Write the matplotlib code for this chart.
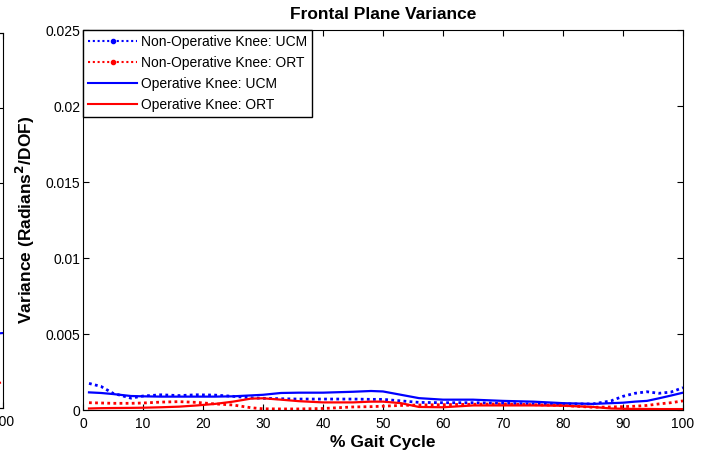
import matplotlib
matplotlib.use("Agg")
import matplotlib.pyplot as plt
from matplotlib.lines import Line2D

plt.rcParams['font.family'] = ['Liberation Sans', 'DejaVu Sans']

# ---- data ----
gait = [1, 3, 5, 8, 10, 13, 16, 19, 22, 25, 28, 30, 33, 36, 40, 45, 48, 50,
        53, 56, 60, 65, 70, 75, 80, 85, 88, 90, 92, 94, 96, 98, 100]

nonop_ucm = [0.00175, 0.00155, 0.0011, 0.00078, 0.00092, 0.0010, 0.00095, 0.0010,
             0.00098, 0.0009, 0.0008, 0.00077, 0.00074, 0.00072, 0.00072, 0.00072,
             0.0007, 0.0007, 0.0006, 0.0005, 0.00048, 0.00048, 0.00044, 0.0004,
             0.0004, 0.0004, 0.0006, 0.0009, 0.0011, 0.0012, 0.0011, 0.00118, 0.00147]

nonop_ort = [0.00048, 0.00046, 0.00044, 0.00044, 0.00046, 0.00052, 0.00055, 0.0005,
             0.0004, 0.00033, 0.00015, 0.00008, 0.00007, 0.00007, 0.0001, 0.0002,
             0.00022, 0.00025, 0.0003, 0.00033, 0.00035, 0.00038, 0.0004, 0.00035,
             0.0003, 0.00018, 0.0002, 0.00022, 0.00025, 0.0003, 0.0004, 0.00048, 0.0006]

op_ucm = [0.00116, 0.00112, 0.00105, 0.00092, 0.0009, 0.00088, 0.00088, 0.00088,
          0.00088, 0.0009, 0.00096, 0.001, 0.00112, 0.00114, 0.00114, 0.0012,
          0.00125, 0.00122, 0.001, 0.00078, 0.00068, 0.00068, 0.0006, 0.00055,
          0.00045, 0.0004, 0.00045, 0.00048, 0.00055, 0.0006, 0.00077, 0.00095, 0.00114]

op_ort = [0.0001, 0.00012, 0.00013, 0.00014, 0.00015, 0.00018, 0.00022, 0.0003,
          0.0004, 0.00055, 0.00075, 0.00077, 0.00068, 0.00058, 0.0005, 0.0005,
          0.00055, 0.00055, 0.00045, 0.0002, 0.00018, 0.0003, 0.0003, 0.0003,
          0.00028, 0.0002, 0.0001, 0.00008, 0.00007, 0.00007, 0.00006, 0.00006, 0.00006]

labels = ['Non-Operative Knee: UCM', 'Non-Operative Knee: ORT',
          'Operative Knee: UCM', 'Operative Knee: ORT']
xticks = [0, 10, 20, 30, 40, 50, 60, 70, 80, 90, 100]
yticks = [0, 0.005, 0.01, 0.015, 0.02, 0.025]
ytick_labels = ['0', '0.005', '0.01', '0.015', '0.02', '0.025']

# neighbouring panel (cut off at left edge): end values only
nb_x = [97, 100]
nb_blue = [0.0049, 0.0050]
nb_red = [0.0016, 0.0017]

W, H = 715, 454
fig = plt.figure(figsize=(W / 100, H / 100), dpi=100)

# ---- neighbouring (cropped) panel ----
axn = fig.add_axes([(3 - 600) / W, (H - 408) / H, 600 / W, (408 - 33) / H])
axn.plot(nb_x, nb_blue, color='#0000ff', lw=1.5)
axn.plot(nb_x, nb_red, color='#ff0000', lw=1.5, ls=(0, (1, 1.2)))
axn.set_xlim(0, 100)
axn.set_ylim(0, 0.025)
axn.set_xticks(xticks)
axn.set_xticklabels(['' if t != 100 else str(t) for t in xticks])
axn.set_yticks(yticks)
axn.set_yticklabels([])
axn.tick_params(direction='in', length=4, width=0.8, top=True, right=True,
                labelsize=10)
axn.tick_params(axis='x', pad=5)
for s in axn.spines.values():
    s.set_linewidth(0.8)

# ---- main panel ----
ax = fig.add_axes([83 / W, (H - 410) / H, 600 / W, 380 / H])
dot = (0, (1, 1.2))
ax.plot(gait, nonop_ucm, color='#0000ff', lw=2.0, ls=dot)
ax.plot(gait, nonop_ort, color='#ff0000', lw=2.0, ls=dot)
ax.plot(gait, op_ucm, color='#0000ff', lw=1.6, ls='-')
ax.plot(gait, op_ort, color='#ff0000', lw=1.6, ls='-')

ax.set_xlim(0, 100)
ax.set_ylim(0, 0.025)
ax.set_xticks(xticks)
ax.set_xticklabels([str(t) for t in xticks])
ax.set_yticks(yticks)
ax.set_yticklabels(ytick_labels)
ax.tick_params(direction='in', length=4, width=0.8, top=True, right=True,
               labelsize=10)
ax.tick_params(axis='x', pad=5)
ax.tick_params(axis='y', pad=2)
for s in ax.spines.values():
    s.set_linewidth(0.8)

ax.set_title('Frontal Plane Variance', fontsize=12.5, fontweight='bold', pad=8)
ax.set_xlabel('% Gait Cycle', fontsize=12.5, fontweight='bold', labelpad=3)
ax.set_ylabel('Variance (Radians$^{\\mathbf{2}}$/DOF)', fontsize=12.5,
              fontweight='bold', labelpad=6)

handles = [
    Line2D([], [], color='#0000ff', lw=1.5, ls=(0, (1, 1.3)), marker='.', markersize=6),
    Line2D([], [], color='#ff0000', lw=1.5, ls=(0, (1, 1.3)), marker='.', markersize=6),
    Line2D([], [], color='#0000ff', lw=1.5, ls='-'),
    Line2D([], [], color='#ff0000', lw=1.5, ls='-'),
]
leg = ax.legend(handles, labels, loc='upper left', borderaxespad=0,
                fontsize=10, numpoints=1, handlelength=3.5, handletextpad=0.3,
                labelspacing=0.5, borderpad=0.38, fancybox=False, framealpha=1)
leg.get_frame().set_edgecolor('black')
leg.get_frame().set_linewidth(1.0)

fig.savefig('out.png', dpi=100)
